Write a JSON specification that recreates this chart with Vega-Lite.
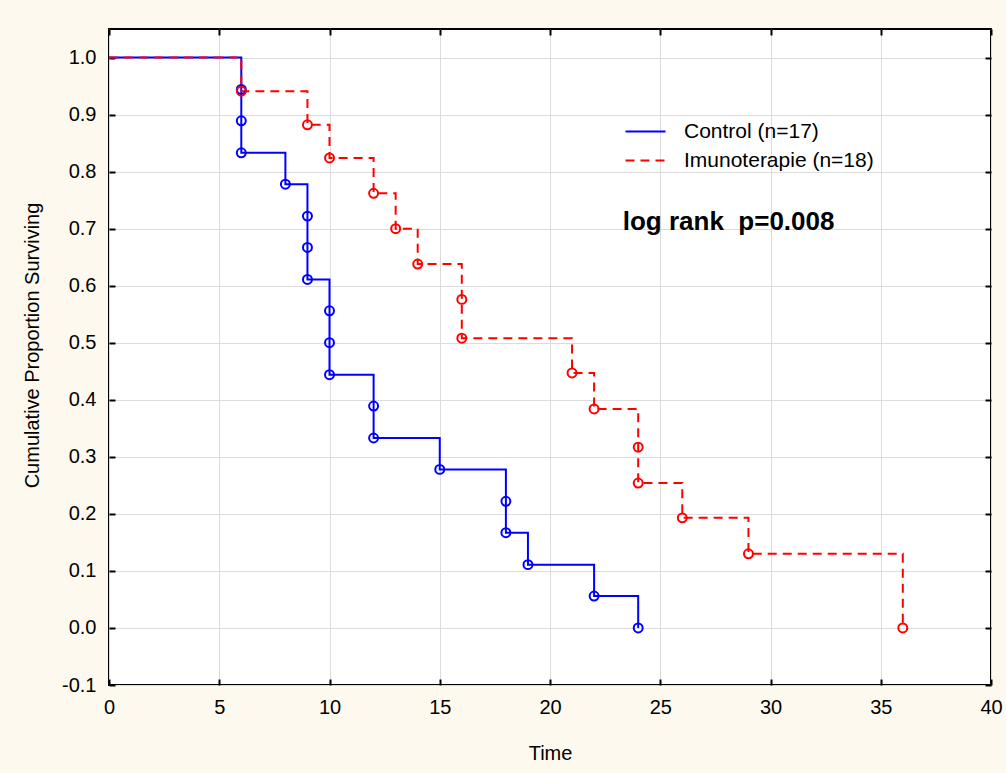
{
  "$schema": "https://vega.github.io/schema/vega-lite/v6.json",
  "width": 882,
  "height": 656,
  "autosize": "none",
  "padding": {"left": 109, "top": 29, "right": 15, "bottom": 88},
  "background": "#fdf9ee",
  "config": {
    "font": "Liberation Sans",
    "view": {"stroke": "#000000", "strokeWidth": 2, "fill": "#ffffff"},
    "axis": {
      "domain": false,
      "tickColor": "#000000",
      "tickWidth": 2,
      "tickSize": -6,
      "labelFontSize": 20,
      "labelColor": "#000000",
      "labelFlush": false,
      "titleFontSize": 20,
      "titleFontWeight": "normal",
      "titleColor": "#000000",
      "gridColor": "#dcdcdc",
      "gridWidth": 1
    }
  },
  "data": {
    "values": [
      {"group": "Control (n=17)", "time": 0, "surv": 1.0},
      {"group": "Control (n=17)", "time": 6, "surv": 0.944},
      {"group": "Control (n=17)", "time": 6, "surv": 0.889},
      {"group": "Control (n=17)", "time": 6, "surv": 0.833},
      {"group": "Control (n=17)", "time": 8, "surv": 0.778},
      {"group": "Control (n=17)", "time": 9, "surv": 0.722},
      {"group": "Control (n=17)", "time": 9, "surv": 0.667},
      {"group": "Control (n=17)", "time": 9, "surv": 0.611},
      {"group": "Control (n=17)", "time": 10, "surv": 0.556},
      {"group": "Control (n=17)", "time": 10, "surv": 0.5},
      {"group": "Control (n=17)", "time": 10, "surv": 0.444},
      {"group": "Control (n=17)", "time": 12, "surv": 0.389},
      {"group": "Control (n=17)", "time": 12, "surv": 0.333},
      {"group": "Control (n=17)", "time": 15, "surv": 0.278},
      {"group": "Control (n=17)", "time": 18, "surv": 0.222},
      {"group": "Control (n=17)", "time": 18, "surv": 0.167},
      {"group": "Control (n=17)", "time": 19, "surv": 0.111},
      {"group": "Control (n=17)", "time": 22, "surv": 0.056},
      {"group": "Control (n=17)", "time": 24, "surv": 0.0},
      {"group": "Imunoterapie (n=18)", "time": 0, "surv": 1.0},
      {"group": "Imunoterapie (n=18)", "time": 6, "surv": 0.941},
      {"group": "Imunoterapie (n=18)", "time": 9, "surv": 0.882},
      {"group": "Imunoterapie (n=18)", "time": 10, "surv": 0.824},
      {"group": "Imunoterapie (n=18)", "time": 12, "surv": 0.762},
      {"group": "Imunoterapie (n=18)", "time": 13, "surv": 0.700},
      {"group": "Imunoterapie (n=18)", "time": 14, "surv": 0.638},
      {"group": "Imunoterapie (n=18)", "time": 16, "surv": 0.576},
      {"group": "Imunoterapie (n=18)", "time": 16, "surv": 0.508},
      {"group": "Imunoterapie (n=18)", "time": 21, "surv": 0.447},
      {"group": "Imunoterapie (n=18)", "time": 22, "surv": 0.384},
      {"group": "Imunoterapie (n=18)", "time": 24, "surv": 0.317},
      {"group": "Imunoterapie (n=18)", "time": 24, "surv": 0.254},
      {"group": "Imunoterapie (n=18)", "time": 26, "surv": 0.193},
      {"group": "Imunoterapie (n=18)", "time": 29, "surv": 0.130},
      {"group": "Imunoterapie (n=18)", "time": 36, "surv": 0.0}
    ]
  },
  "layer": [
    {
      "mark": {"type": "line", "interpolate": "step-after", "strokeWidth": 2},
      "encoding": {
        "x": {
          "field": "time", "type": "quantitative",
          "scale": {"domain": [0, 40], "nice": false, "zero": false},
          "axis": {"orient": "bottom", "values": [0, 5, 10, 15, 20, 25, 30, 35, 40], "grid": true, "title": "Time", "labelPadding": 18, "titlePadding": 26}
        },
        "y": {
          "field": "surv", "type": "quantitative",
          "scale": {"domain": [-0.1, 1.05], "nice": false, "zero": false},
          "axis": {
            "orient": "left",
            "values": [-0.1, 0, 0.1, 0.2, 0.3, 0.4, 0.5, 0.6, 0.7, 0.8, 0.9, 1.0],
            "grid": true,
            "labelExpr": "datum.value < -0.05 ? '-0.1' : format(datum.value, '.1f')",
            "labelPadding": 19,
            "title": "Cumulative Proportion Surviving",
            "titleX": -77,
            "titleY": 316,
            "titleAngle": -90,
            "titleAlign": "center",
            "titleBaseline": "middle"
          }
        },
        "color": {
          "field": "group", "type": "nominal",
          "scale": {"domain": ["Control (n=17)", "Imunoterapie (n=18)"], "range": ["#0000ff", "#ff0000"]},
          "legend": {
            "orient": "none", "legendX": 526, "legendY": 92, "title": null,
            "symbolType": "M-4,0H4", "symbolSize": 100, "symbolStrokeWidth": 2,
            "labelFontSize": 21, "labelColor": "#000000", "labelOffset": 28, "labelLimit": 0, "rowPadding": 7, "padding": 0
          }
        },
        "strokeDash": {
          "field": "group", "type": "nominal",
          "scale": {"domain": ["Control (n=17)", "Imunoterapie (n=18)"], "range": [[1, 0], [9, 6]]},
          "legend": {
            "orient": "none", "legendX": 526, "legendY": 92, "title": null,
            "symbolType": "M-4,0H4", "symbolSize": 100, "symbolStrokeWidth": 2,
            "labelFontSize": 21, "labelColor": "#000000", "labelOffset": 28, "labelLimit": 0, "rowPadding": 7, "padding": 0
          }
        }
      }
    },
    {
      "transform": [{"filter": "datum.time > 0"}],
      "mark": {"type": "point", "filled": false, "strokeWidth": 2, "size": 80, "opacity": 1},
      "encoding": {
        "x": {"field": "time", "type": "quantitative", "axis": {"orient": "top", "values": [0, 5, 10, 15, 20, 25, 30, 35, 40], "labels": false, "title": null, "grid": false}},
        "y": {"field": "surv", "type": "quantitative", "axis": {"orient": "right", "values": [-0.1, 0, 0.1, 0.2, 0.3, 0.4, 0.5, 0.6, 0.7, 0.8, 0.9, 1.0], "labels": false, "title": null, "grid": false}},
        "stroke": {"condition": {"test": "datum.group === 'Control (n=17)'", "value": "#0000ff"}, "value": "#ff0000"}
      }
    },
    {
      "data": {"values": [{"label": "log rank\u00a0 p=0.008"}]},
      "mark": {"type": "text", "align": "left", "baseline": "alphabetic", "fontSize": 26, "fontWeight": "bold", "fill": "#000000"},
      "encoding": {
        "x": {"datum": 23.3, "type": "quantitative", "axis": null},
        "y": {"datum": 0.697, "type": "quantitative", "axis": null},
        "text": {"field": "label"}
      }
    }
  ],
  "resolve": {"axis": {"x": "independent", "y": "independent"}}
}
